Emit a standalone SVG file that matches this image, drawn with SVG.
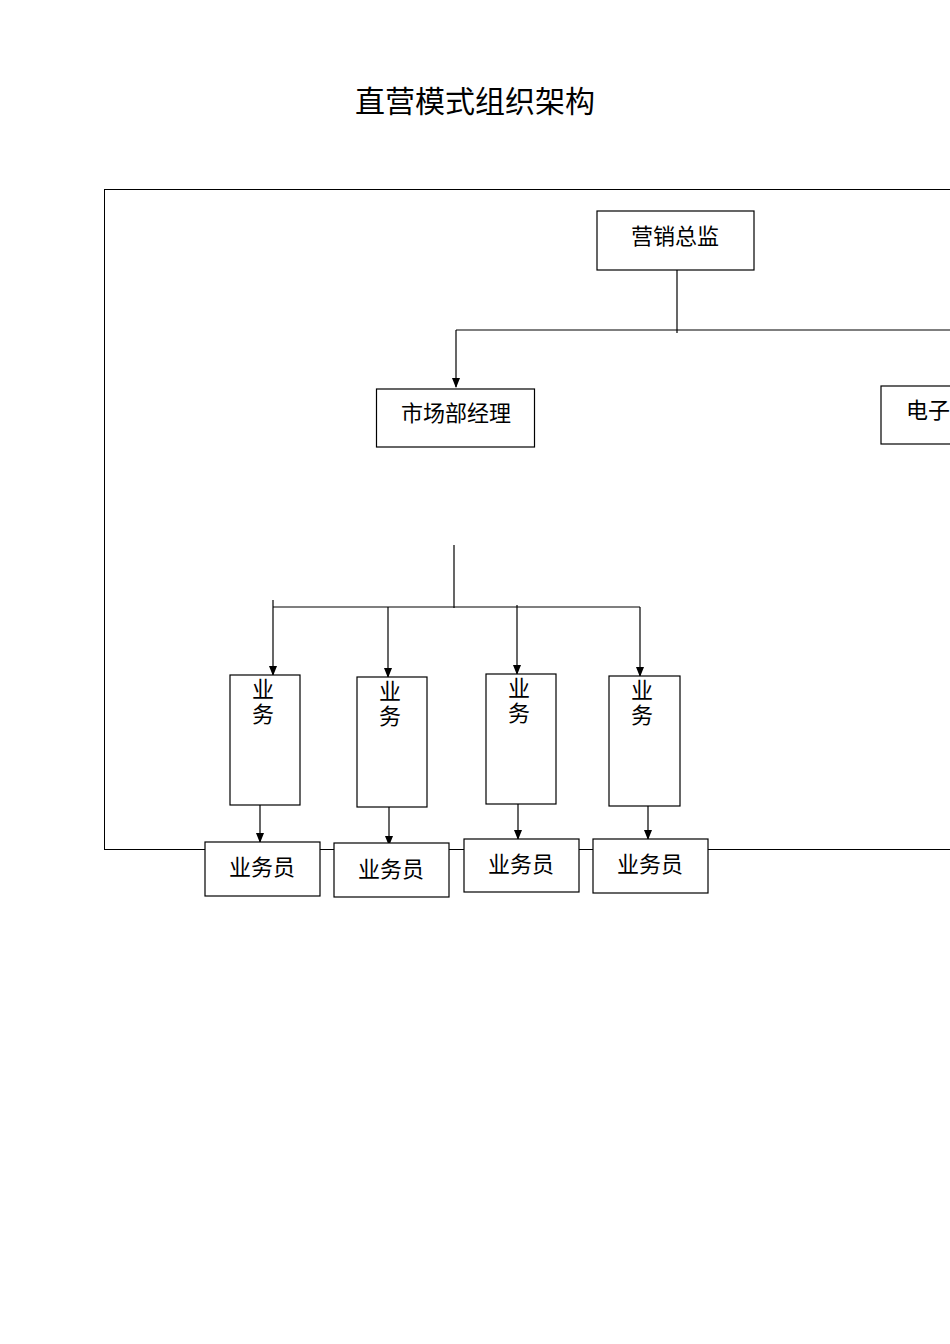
<svg xmlns="http://www.w3.org/2000/svg" width="950" height="1344" viewBox="0 0 950 1344">
<style>
.b{fill:#fff;stroke:#000;stroke-width:1.2}
.t{font-family:"Liberation Serif","Noto Sans CJK SC",serif;font-size:22px;fill:#000;text-anchor:middle}
.c{stroke:#000;stroke-width:1.2;fill:none}
</style>
<defs><marker id="a" markerWidth="10" markerHeight="10" refX="5" refY="9" orient="auto" markerUnits="userSpaceOnUse"><path d="M1,0 L9,0 L5,10 Z" fill="#000" transform="rotate(-90 5 5) rotate(90 5 5)"/></marker>
<marker id="d" markerWidth="10" markerHeight="10" refX="9" refY="5" orient="auto" markerUnits="userSpaceOnUse"><path d="M0,1 L10,5 L0,9 Z" fill="#000"/></marker></defs>
<rect width="950" height="1344" fill="#fff"/>
<text x="475" y="112" style="font-family:'Noto Sans CJK SC',sans-serif;font-size:30px;text-anchor:middle">直营模式组织架构</text>
<rect x="104.5" y="189.5" width="860" height="660" fill="none" stroke="#000" stroke-width="1"/>
<g id="connectors">
<line class="c" x1="677" y1="270" x2="677" y2="333"/>
<line class="c" x1="456" y1="330" x2="950" y2="330"/>
<line class="c" x1="456" y1="330" x2="456" y2="387" marker-end="url(#d)"/>
<line class="c" stroke-width="2" x1="454" y1="545" x2="454" y2="608"/>
<line class="c" x1="273" y1="607" x2="640" y2="607"/>
<line class="c" x1="273" y1="600" x2="273" y2="675" marker-end="url(#d)"/>
<line class="c" x1="388" y1="607" x2="388" y2="677" marker-end="url(#d)"/>
<line class="c" x1="517" y1="605" x2="517" y2="674" marker-end="url(#d)"/>
<line class="c" x1="640" y1="607" x2="640" y2="676" marker-end="url(#d)"/>
<line class="c" x1="260" y1="804" x2="260" y2="842" marker-end="url(#d)"/>
<line class="c" x1="389" y1="806" x2="389" y2="845" marker-end="url(#d)"/>
<line class="c" x1="518" y1="803" x2="518" y2="839" marker-end="url(#d)"/>
<line class="c" x1="648" y1="802" x2="648" y2="839" marker-end="url(#d)"/>
</g>
<g id="n1"><rect class="b" x="597" y="211" width="157" height="59"/><text class="t" x="675" y="244">营销总监</text></g>
<g id="n2"><rect class="b" x="376.5" y="389" width="158" height="58"/><text class="t" x="456" y="421">市场部经理</text></g>
<g id="n3"><rect class="b" x="881" y="386" width="80" height="58"/><text class="t" x="906" y="418" style="text-anchor:start">电子</text></g>
<g id="v1"><rect class="b" x="230" y="675" width="70" height="130"/><text class="t" x="263" y="697">业</text><text class="t" x="263" y="722">务</text></g>
<g id="v2"><rect class="b" x="357" y="677" width="70" height="130"/><text class="t" x="390" y="699">业</text><text class="t" x="390" y="724">务</text></g>
<g id="v3"><rect class="b" x="486" y="674" width="70" height="130"/><text class="t" x="519" y="696">业</text><text class="t" x="519" y="721">务</text></g>
<g id="v4"><rect class="b" x="609" y="676" width="71" height="130"/><text class="t" x="642" y="698">业</text><text class="t" x="642" y="723">务</text></g>
<g id="s1"><rect class="b" stroke-width="2" x="205" y="842" width="115" height="54"/><text class="t" x="262" y="875">业务员</text></g>
<g id="s2"><rect class="b" x="334" y="843" width="115" height="54"/><text class="t" x="391" y="877">业务员</text></g>
<g id="s3"><rect class="b" stroke-width="2" x="464" y="839" width="115" height="53"/><text class="t" x="521" y="872">业务员</text></g>
<g id="s4"><rect class="b" x="593" y="839" width="115" height="54"/><text class="t" x="650" y="872">业务员</text></g>
</svg>
